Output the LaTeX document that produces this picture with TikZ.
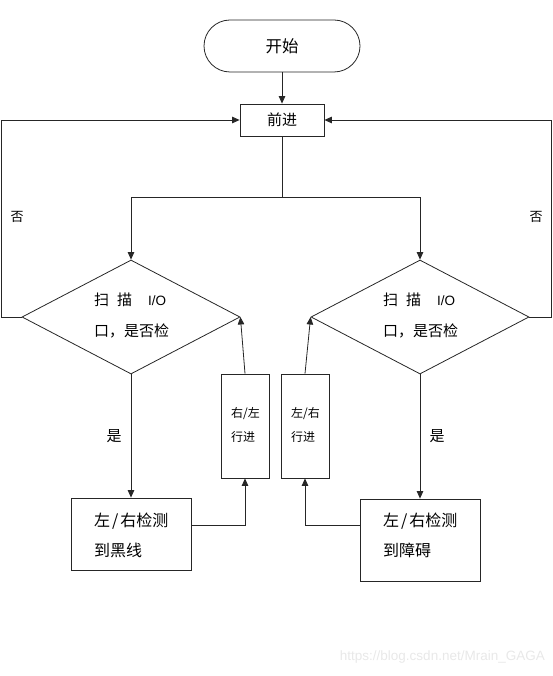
\documentclass[tikz,border=0pt]{standalone}
\usepackage{fontspec}
\setmainfont{Noto Sans CJK SC}
\newfontfamily\latinfont{Liberation Sans}
\usetikzlibrary{shapes.geometric,arrows.meta}
\tikzset{
  ln/.style={line width=0.8pt, draw=black!85},
  arr/.style={ln, -{Triangle[length=7.5pt,width=6.5pt]}},
  boxx/.style={ln, rectangle, inner sep=0pt},
  dia/.style={ln, diamond, inner sep=0pt, minimum width=218pt, minimum height=114pt},
  bigtxt/.style={font=\fontsize{15}{30}\selectfont, inner sep=0pt},
  boxtxt/.style={font=\fontsize{16}{30}\selectfont, inner sep=0pt},
  smtxt/.style={font=\fontsize{12}{24}\selectfont, inner sep=0pt},
}
\begin{document}
\begin{tikzpicture}[x=1pt,y=-1pt]
\useasboundingbox (0,0) rectangle (553,676);
% nodes
\node[boxx, rounded corners=26pt, minimum width=156pt, minimum height=52pt, font=\fontsize{16.5}{20}\selectfont, text depth=-1pt] (start) at (282,46) {开始};
\node[boxx, minimum width=84pt, minimum height=32pt, font=\fontsize{15}{18}\selectfont] (qj) at (282,120) {前进};
\node[dia] (dL) at (131,317) {};
\node[dia] (dR) at (420,317) {};
\node[bigtxt, anchor=west] (tL1) at (94,300) {扫\hspace{8pt}描\hspace{16pt}{\latinfont\fontsize{13.5}{15}\selectfont I/O}};
\node[bigtxt, anchor=west] (tL2) at (94,331) {口，是否检};
\node[bigtxt, anchor=west] (tR1) at (383,300) {扫\hspace{8pt}描\hspace{16pt}{\latinfont\fontsize{13.5}{15}\selectfont I/O}};
\node[bigtxt, anchor=west] (tR2) at (383,331) {口，是否检};
\node[boxx, minimum width=120pt, minimum height=72pt] (bL) at (131,534) {};
\node[boxtxt, anchor=west, align=left] (bLt) at (94,535) {左\hspace{2pt}/\hspace{2pt}右检测\\到黑线};
\node[boxx, minimum width=120pt, minimum height=82pt] (bR) at (420,540) {};
\node[boxtxt, anchor=west, align=left] (bRt) at (383,535) {左\hspace{2pt}/\hspace{2pt}右检测\\到障碍};
\node[boxx, minimum width=48pt, minimum height=104pt] (sL) at (245,426) {};
\node[smtxt, anchor=west, align=left] (sLt) at (231,425) {右/左\\行进};
\node[boxx, minimum width=48pt, minimum height=104pt] (sR) at (305,426) {};
\node[smtxt, anchor=west, align=left] (sRt) at (291,425) {左/右\\行进};
\node[font=\fontsize{13}{15}\selectfont, inner sep=0pt] (noL) at (17,217) {否};
\node[font=\fontsize{13}{15}\selectfont, inner sep=0pt] (noR) at (536,217) {否};
\node[font=\fontsize{15}{16}\selectfont, inner sep=0pt] (yesL) at (114,436) {是};
\node[font=\fontsize{15}{16}\selectfont, inner sep=0pt] (yesR) at (437,436) {是};
\node[font=\latinfont\fontsize{13.5}{15}\selectfont, text=black!9, anchor=east, inner sep=0pt] (wm) at (545,657) {https://blog.csdn.net/Mrain\_GAGA};
\coordinate (br) at (282,197);
\coordinate (lc) at (1.5,317);
\coordinate (rc) at (551.5,317);
% connectors
\draw[arr] (start) -- (qj);
\draw[ln] (qj.south) -- (br);
\draw[arr] (br) -| (dL.north);
\draw[arr] (br) -| (dR.north);
\draw[arr] (dL.west) -- (lc) |- (qj.west);
\draw[arr] (dR.east) -- (rc) |- (qj.east);
\draw[arr] (dL.south) -- (bL.north);
\draw[arr] (dR.south) -- (bR.north);
\draw[arr] ([yshift=9pt]bL.east) -| (sL.south);
\draw[arr] ([yshift=15pt]bR.west) -| (sR.south);
\draw[arr] (sL.north) -- (dL.east);
\draw[arr] (sR.north) -- (dR.west);
\end{tikzpicture}
\end{document}
